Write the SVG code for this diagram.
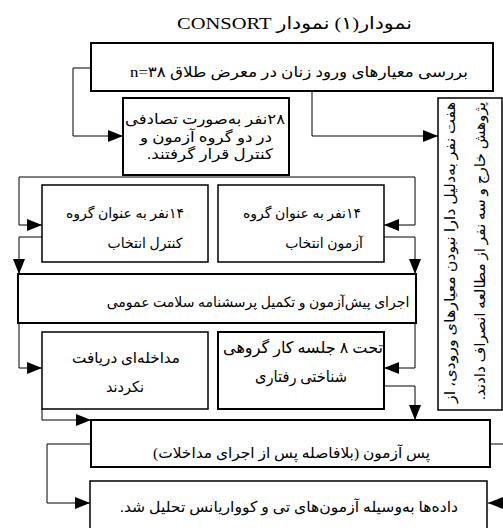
<svg xmlns="http://www.w3.org/2000/svg" width="503" height="528" viewBox="0 0 503 528">
<style>
.box{fill:#fff;stroke:#000;stroke-width:1.5}
.thick{stroke-width:2}
.t{font-family:"Liberation Serif","DejaVu Sans",serif;font-size:14px;fill:#000;direction:rtl;text-anchor:middle}
.c{fill:none;stroke:#000;stroke-width:1}
</style>
<defs>
<marker id="ar" markerUnits="userSpaceOnUse" markerWidth="16" markerHeight="12" refX="15" refY="6" orient="auto">
<path d="M0,0 L15,6 L0,12 z" fill="#000"/>
</marker>
</defs>
<rect width="503" height="528" fill="#fff"/>
<text class="t" x="294.5" y="29" style="font-size:17px" textLength="235" lengthAdjust="spacingAndGlyphs">نمودار(۱) نمودار CONSORT</text>
<g id="connectors">
<polyline class="c" points="91,68 73,68 73,136 123,136" marker-end="url(#ar)"/>
<polyline class="c" points="312,91 312,136 438,136" marker-end="url(#ar)"/>
<polyline class="c" points="19,225 19,177 415,177 415,225"/>
<line class="c" x1="19" y1="225" x2="42" y2="225" marker-end="url(#ar)"/>
<line class="c" x1="415" y1="225" x2="384" y2="225" marker-end="url(#ar)"/>
<polyline class="c" points="42,237 19,237 19,274" marker-end="url(#ar)"/>
<polyline class="c" points="384,237 415,237 415,274" marker-end="url(#ar)"/>
<polyline class="c" points="19,323 19,368 42,368" marker-end="url(#ar)"/>
<polyline class="c" points="415,323 415,368 384,368" marker-end="url(#ar)"/>
<polyline class="c" points="384,386 415,386 415,420" marker-end="url(#ar)"/>
<polyline class="c" points="42,409 42,420 91,420" marker-end="url(#ar)"/>
<polyline class="c" points="91,444 47,444 47,503 90,503" marker-end="url(#ar)"/>
<line class="c" x1="490" y1="444" x2="503" y2="444"/>
<line class="c" x1="504" y1="503" x2="488" y2="503" marker-end="url(#ar)"/>
</g>
<g id="screening">
<rect class="box thick" x="91" y="43" width="402" height="48"/>
<text class="t" x="299" y="77" style="font-size:15px" textLength="338" lengthAdjust="spacingAndGlyphs">بررسی معیارهای ورود زنان در معرض طلاق n=۳۸</text>
</g>
<g id="randomized">
<rect class="box thick" x="123" y="98" width="166" height="77"/>
<text class="t" x="205" y="124" style="font-size:14.5px" textLength="160" lengthAdjust="spacingAndGlyphs">۲۸نفر به‌صورت تصادفی</text>
<text class="t" x="206" y="141.5" style="font-size:14.5px" textLength="132" lengthAdjust="spacingAndGlyphs">در دو گروه آزمون و</text>
<text class="t" x="210" y="159" style="font-size:14.5px" textLength="126" lengthAdjust="spacingAndGlyphs">کنترل قرار گرفتند.</text>
</g>
<g id="excluded">
<rect class="box" x="438" y="98" width="64" height="312"/>
<text class="t" transform="translate(455,252.5) rotate(-90)" style="font-size:14.5px" textLength="301" lengthAdjust="spacingAndGlyphs">هفت نفر به‌دلیل دارا نبودن معیارهای ورودی، از</text>
<text class="t" transform="translate(485,251) rotate(-90)" style="font-size:14.5px" textLength="298" lengthAdjust="spacingAndGlyphs">پژوهش خارج و سه نفر از مطالعه انصراف دادند.</text>
</g>
<g id="control">
<rect class="box" x="42" y="185" width="166" height="77"/>
<text class="t" x="125" y="218">۱۴نفر به عنوان گروه</text>
<text class="t" x="145" y="248">کنترل انتخاب</text>
</g>
<g id="test">
<rect class="box" x="218" y="185" width="166" height="77"/>
<text class="t" x="302" y="218">۱۴نفر به عنوان گروه</text>
<text class="t" x="324" y="248">آزمون انتخاب</text>
</g>
<g id="pretest">
<rect class="box thick" x="18" y="274" width="398" height="49"/>
<text class="t" x="258" y="307">اجرای پیش‌آزمون و تکمیل پرسشنامه سلامت عمومی</text>
</g>
<g id="nointervention">
<rect class="box" x="42" y="332" width="166" height="77"/>
<text class="t" x="126" y="363" style="font-size:15px" textLength="108" lengthAdjust="spacingAndGlyphs">مداخله‌ای دریافت</text>
<text class="t" x="125" y="392" style="font-size:15px" textLength="38" lengthAdjust="spacingAndGlyphs">نکردند</text>
</g>
<g id="intervention">
<rect class="box thick" x="218" y="332" width="166" height="77"/>
<text class="t" x="303" y="353" style="font-size:16px" textLength="160" lengthAdjust="spacingAndGlyphs">تحت ۸ جلسه کار گروهی</text>
<text class="t" x="301" y="382" style="font-size:16px" textLength="92" lengthAdjust="spacingAndGlyphs">شناختی رفتاری</text>
</g>
<g id="posttest">
<rect class="box thick" x="91" y="420" width="399" height="47"/>
<text class="t" x="291.5" y="458" style="font-size:15px" textLength="277" lengthAdjust="spacingAndGlyphs">پس آزمون (بلافاصله پس از اجرای مداخلات)</text>
</g>
<g id="analysis">
<rect class="box" x="90" y="481" width="397" height="60"/>
<text class="t" x="289" y="512" style="font-size:15px" textLength="338" lengthAdjust="spacingAndGlyphs">داده‌ها به‌وسیله آزمون‌های تی و کوواریانس تحلیل شد.</text>
</g>
</svg>
